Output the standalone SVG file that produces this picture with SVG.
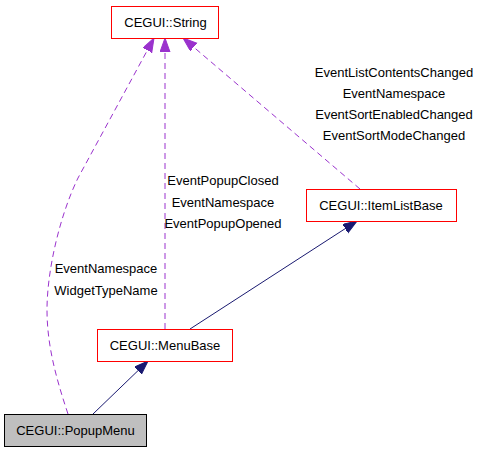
<svg xmlns="http://www.w3.org/2000/svg" width="481" height="453" viewBox="0 0 481 453">
<style>
text{font-family:"Liberation Sans",Arial,sans-serif;font-size:13px;fill:#000;text-anchor:middle}
.box{fill:#fff;stroke:#ff0000;stroke-width:1}
.cur{fill:#bfbfbf;stroke:#000;stroke-width:1}
.inh{fill:none;stroke:#191970;stroke-width:1}
.use{fill:none;stroke:#9a32cd;stroke-width:1;stroke-dasharray:6,4}
</style>
<defs>
<marker id="aN" markerUnits="userSpaceOnUse" markerWidth="16" markerHeight="12" refX="14" refY="5" orient="auto" viewBox="0 0 16 12">
<path d="M0,0 L14,5 L0,10 z" fill="#191970" stroke="#191970"/>
</marker>
<marker id="aP" markerUnits="userSpaceOnUse" markerWidth="16" markerHeight="12" refX="14" refY="5" orient="auto" viewBox="0 0 16 12">
<path d="M0,0 L14,5 L0,10 z" fill="#9a32cd" stroke="#9a32cd"/>
</marker>
</defs>
<g id="edges">
<path class="inh" d="M93,414 L148,361" marker-end="url(#aN)"/>
<path class="inh" d="M190,329 L357,221" marker-end="url(#aN)"/>
<path class="use" d="M68,414 C56,378 47,345 47,310 C47,270 60,215 78,178 L154,38" marker-end="url(#aP)"/>
<path class="use" d="M165,329 L165,38" marker-end="url(#aP)"/>
<path class="use" d="M360,189 L183,38" marker-end="url(#aP)"/>
<text x="394" y="76.5">EventListContentsChanged</text>
<text x="394" y="97.5">EventNamespace</text>
<text x="394" y="118.5">EventSortEnabledChanged</text>
<text x="394" y="139.5">EventSortModeChanged</text>
<text x="223" y="185">EventPopupClosed</text>
<text x="223" y="206.5">EventNamespace</text>
<text x="223" y="228">EventPopupOpened</text>
<text x="106" y="273">EventNamespace</text>
<text x="106" y="294.5">WidgetTypeName</text>
</g>
<g id="String">
<rect class="box" x="111.5" y="6.5" width="107" height="32"/>
<text x="165.5" y="27">CEGUI::String</text>
</g>
<g id="ItemListBase">
<rect class="box" x="306.5" y="189.5" width="150" height="32"/>
<text x="381" y="210">CEGUI::ItemListBase</text>
</g>
<g id="MenuBase">
<rect class="box" x="97.5" y="329.5" width="135" height="32"/>
<text x="165" y="350">CEGUI::MenuBase</text>
</g>
<g id="PopupMenu">
<rect class="cur" x="4.5" y="414.5" width="142" height="32"/>
<text x="75.5" y="435">CEGUI::PopupMenu</text>
</g>
</svg>
